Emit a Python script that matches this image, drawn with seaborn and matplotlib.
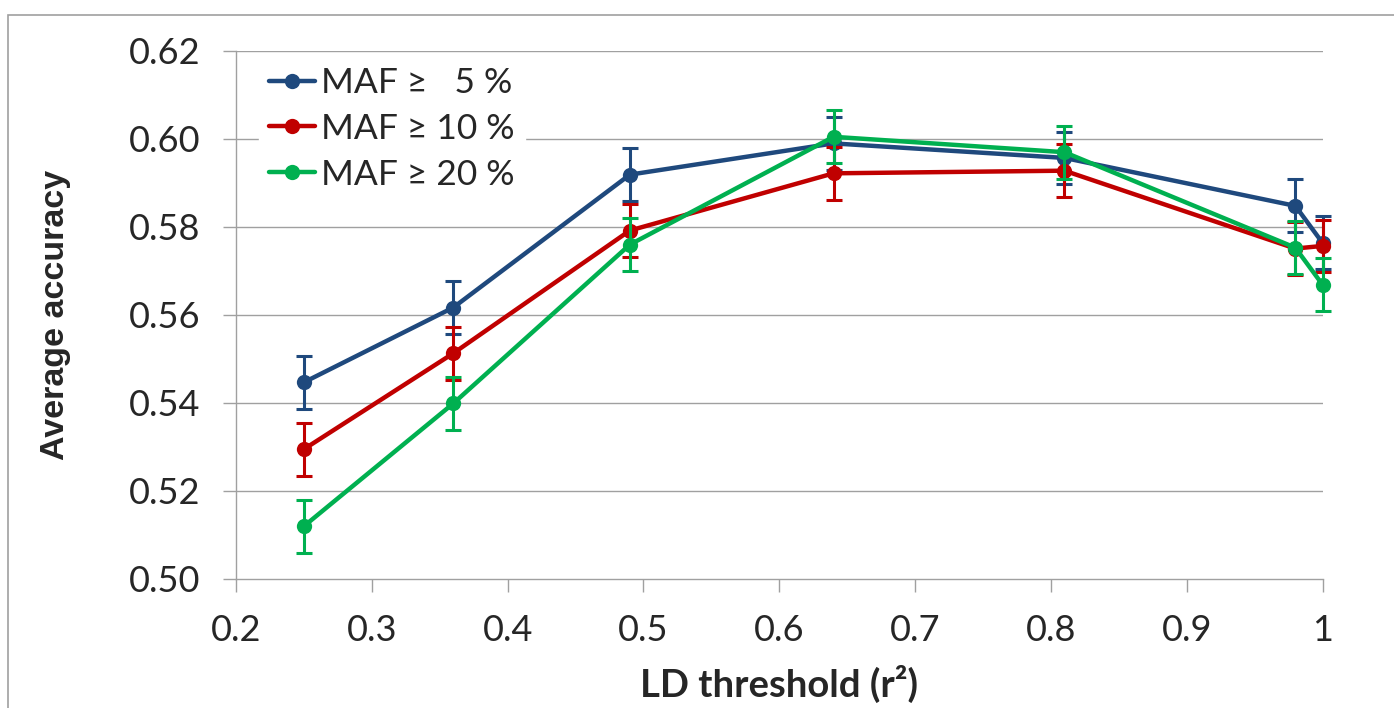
import matplotlib
matplotlib.use("Agg")
import matplotlib.pyplot as plt
import seaborn as sns
import pandas as pd
from matplotlib.patches import Rectangle

ld_threshold = [0.25, 0.36, 0.49, 0.64, 0.81, 0.98, 1.0]
series_names = ["MAF \u2265   5 %", "MAF \u2265 10 %", "MAF \u2265 20 %"]
maf5 = [0.5447, 0.5617, 0.5919, 0.5990, 0.5957, 0.5848, 0.5764]
maf10 = [0.5295, 0.5513, 0.5792, 0.5922, 0.5928, 0.5751, 0.5757]
maf20 = [0.5120, 0.5399, 0.5760, 0.6005, 0.5970, 0.5753, 0.5669]
err5 = [0.006, 0.006, 0.006, 0.006, 0.006, 0.006, 0.006]
err10 = [0.006, 0.006, 0.006, 0.006, 0.006, 0.006, 0.006]
err20 = [0.006, 0.006, 0.006, 0.006, 0.006, 0.006, 0.006]
colors = ["#1F497D", "#C00000", "#00B050"]
x_ticks = [0.2, 0.3, 0.4, 0.5, 0.6, 0.7, 0.8, 0.9, 1.0]
x_tick_labels = ["0.2", "0.3", "0.4", "0.5", "0.6", "0.7", "0.8", "0.9", "1"]
y_ticks = [0.50, 0.52, 0.54, 0.56, 0.58, 0.60, 0.62]

values = [maf5, maf10, maf20]
errors = [err5, err10, err20]
rows = []
for name, vals, errs in zip(series_names, values, errors):
    for x, v, e in zip(ld_threshold, vals, errs):
        rows.append({"ld": x, "acc": v, "err": e, "series": name})
df = pd.DataFrame(rows)

sns.set_style("white")
plt.rcParams["font.family"] = ["Lato", "DejaVu Sans"]

fig = plt.figure(figsize=(13.94, 7.08), dpi=100)
ax = fig.add_axes([236 / 1394, 1 - 579 / 708, (1322.5 - 236) / 1394, (579 - 51) / 708])

grid_c = "#A0A0A0"
for yv in y_ticks[1:]:
    ax.axhline(yv, color=grid_c, lw=1.0, zorder=0)

for i, (name, c) in enumerate(zip(series_names, colors)):
    sub = df[df["series"] == name]
    _, caps, bars = ax.errorbar(sub["ld"], sub["acc"], yerr=sub["err"], fmt="none", ecolor=c,
                                elinewidth=2.2, capsize=6, capthick=2.2, zorder=2 + i * 2)
    for a in list(caps) + list(bars):
        a.set_clip_on(False)
    sns.lineplot(data=sub, x="ld", y="acc", color=c, marker="o", markersize=11,
                 markeredgewidth=0, linewidth=3.2, ax=ax, label=name,
                 zorder=3 + i * 2, errorbar=None, clip_on=False)

ax.set_xlim(0.2, 1.0)
ax.set_ylim(0.50, 0.62)
ax.set_xticks(x_ticks)
ax.set_xticklabels(x_tick_labels)
ax.set_yticks(y_ticks)
ax.set_yticklabels([f"{v:.2f}" for v in y_ticks])
ax.tick_params(axis="both", which="major", direction="out", length=9.4, width=1.0,
               color=grid_c, labelsize=26, pad=16, bottom=True, left=True)
for sp in ["top", "right"]:
    ax.spines[sp].set_visible(False)
for sp in ["left", "bottom"]:
    ax.spines[sp].set_color(grid_c)
    ax.spines[sp].set_linewidth(1.0)
ax.grid(False)

ax.set_xlabel("LD threshold (r\u00b2)", fontsize=27.5, fontweight="bold", labelpad=13,
              family=["Lato", "DejaVu Sans"])
ax.set_ylabel("Average accuracy", fontsize=24.5, fontweight="bold", labelpad=42,
              family=["Liberation Sans", "DejaVu Sans"])

leg = ax.legend(loc="upper left", bbox_to_anchor=(0.021, 0.99), frameon=True,
                fontsize=25.5, handlelength=1.3, handletextpad=0.15, labelspacing=0.39,
                borderpad=0.3, borderaxespad=0)
leg.get_frame().set_facecolor("white")
leg.get_frame().set_edgecolor("white")
leg.get_frame().set_alpha(1.0)
leg.set_zorder(20)

fig.patches.append(Rectangle((8 / 1394, -0.05), 1.2, 1 - 15 / 708 + 0.05,
                             transform=fig.transFigure, fill=False,
                             edgecolor=grid_c, lw=1.2, zorder=0))

fig.savefig("out.png", dpi=100, facecolor="white")
